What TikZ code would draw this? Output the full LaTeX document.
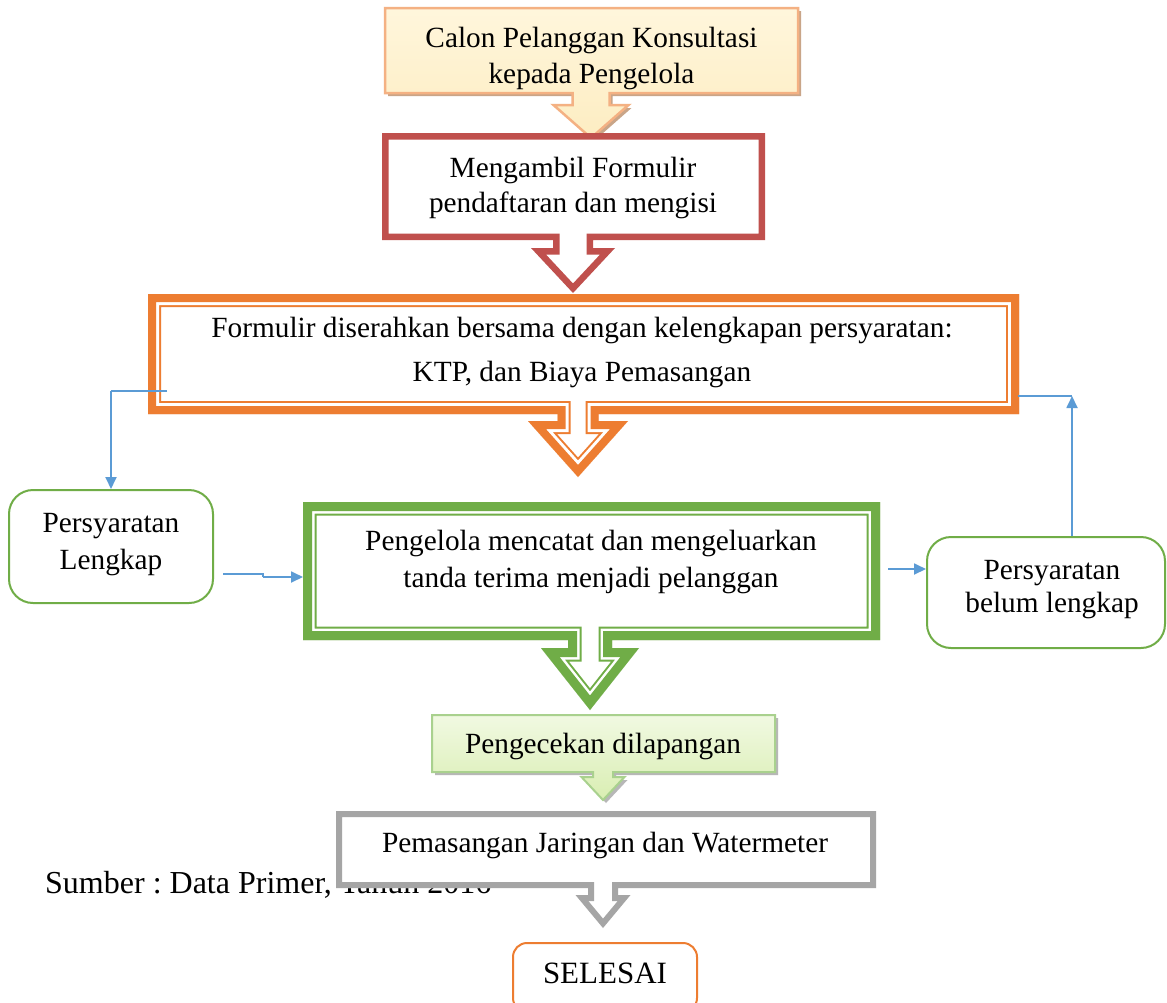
\documentclass[tikz,border=0pt]{standalone}
\usepackage{fontspec}
\setmainfont{Liberation Serif}
\usetikzlibrary{arrows.meta}
\frenchspacing
\definecolor{cRed}{HTML}{C0504D}
\definecolor{cOrange}{HTML}{ED7D31}
\definecolor{cGreen}{HTML}{70AD47}
\definecolor{cGrey}{HTML}{A5A5A5}
\definecolor{cBlue}{HTML}{5B9BD5}
\definecolor{cPeach}{HTML}{F4B183}
\definecolor{cCream}{HTML}{FDEDC2}
\definecolor{cCreamTop}{HTML}{FFF6DC}
\definecolor{cTan}{HTML}{C9A588}
\definecolor{cLime}{HTML}{A9D18E}
\definecolor{cLimeTop}{HTML}{F1F9E2}
\definecolor{cLimeBot}{HTML}{D9EEB2}
\definecolor{cShadow}{HTML}{A6A6A6}
% L,R,T,B, C (arrow centre x), s (shaft half width), h (head half width), H (head top y), P (tip y)
\newcommand{\calloutpath}[9]{(#1,#3) -- (#2,#3) -- (#2,#4) -- ({#5+#6},#4) -- ({#5+#6},#8) -- ({#5+#7},#8) -- (#5,#9) -- ({#5-#7},#8) -- ({#5-#6},#8) -- ({#5-#6},#4) -- (#1,#4) -- cycle}
\begin{document}
\begin{tikzpicture}[x=1pt,y=-1pt,line join=miter,
  txt/.style={inner sep=0pt,align=center,text=black},
  rbox/.style={draw=cGreen,line width=2pt,rounded corners=24pt,fill=white,inner sep=0pt},
  bluearrow/.style={draw=cBlue,line width=1.8pt,-{Triangle[length=12pt,width=11pt]}},
  blueline/.style={draw=cBlue,line width=1.5pt}]
\useasboundingbox (0,0) rectangle (1167,1002);
\fill[white] (0,0) rectangle (1167,1002);

% ---- box 1 : Calon Pelanggan
\def\curpath{\calloutpath{385}{798}{8}{93}{591}{18.5}{37.5}{105}{138}}
\fill[cTan,shift={(3,3)}] \curpath;
\shade[top color=cCreamTop,bottom color=cCream] \curpath;
\draw[cPeach,line width=2.5pt] \curpath;
\node[txt,font=\fontsize{29.3}{36}\selectfont] (t1) at (591.5,58.2)
  {Calon Pelanggan Konsultasi\\kepada Pengelola};

% ---- box 2 : Mengambil Formulir
\def\curpath{\calloutpath{382}{765}{133}{240}{573}{20}{42}{248}{293}}
\begin{scope}
\clip \curpath;
\fill[white] \curpath;
\draw[cRed,line width=13pt] \curpath;
\end{scope}
\node[txt,font=\fontsize{29.3}{35}\selectfont] (t2) at (573,187.7)
  {Mengambil Formulir\\pendaftaran dan mengisi};

% ---- box 3 : Formulir diserahkan
\def\curpath{\calloutpath{148}{1019}{294}{414}{578}{20.5}{50}{421}{477}}
\begin{scope}
\clip \curpath;
\fill[white] \curpath;
\draw[cOrange,line width=26pt] \curpath;
\draw[white,line width=22pt] \curpath;
\draw[cOrange,line width=16pt] \curpath;
\end{scope}
\node[txt,font=\fontsize{29.3}{44}\selectfont] (t3) at (582,352.2)
  {Formulir diserahkan bersama dengan kelengkapan persyaratan:\\KTP, dan Biaya Pemasangan};

% ---- box 4 : Pengelola mencatat
\def\curpath{\calloutpath{303}{880}{502}{640}{590}{22}{49}{648}{710}}
\begin{scope}
\clip \curpath;
\fill[white] \curpath;
\draw[cGreen,line width=27pt] \curpath;
\draw[white,line width=23pt] \curpath;
\draw[cGreen,line width=18pt] \curpath;
\end{scope}
\node[txt,font=\fontsize{29.3}{37}\selectfont] (t4) at (591,561.7)
  {Pengelola mencatat dan mengeluarkan\\tanda terima menjadi pelanggan};

% ---- box 5 : Pengecekan dilapangan
\def\curpath{\calloutpath{432}{775}{715}{772}{603}{10}{21.5}{777}{800}}
\fill[cShadow,opacity=0.8,shift={(3,3)}] \curpath;
\shade[top color=cLimeTop,bottom color=cLimeBot] \curpath;
\draw[cLime,line width=2pt] \curpath;
\node[txt,anchor=base,font=\fontsize{29.3}{35}\selectfont] (t5) at (603,753)
  {Pengecekan dilapangan};

% ---- source note (partly hidden by the next box)
\node[txt,anchor=base west,font=\fontsize{32}{38}\selectfont] (src) at (45,893)
  {Sumber : Data Primer, Tahun 2016};

% ---- box 6 : Pemasangan
\def\curpath{\calloutpath{336}{876}{811}{888}{603}{15}{27.5}{895}{928}}
\begin{scope}
\clip \curpath;
\fill[white] \curpath;
\draw[cGrey,line width=12pt] \curpath;
\end{scope}
\node[txt,anchor=base,font=\fontsize{29.3}{35}\selectfont] (t6) at (605,852)
  {Pemasangan Jaringan dan Watermeter};

% ---- end box
\node[rbox,draw=cOrange,rounded corners=14pt,minimum width=184pt,minimum height=69pt] (end) at (605,977.5) {};
\node[txt,anchor=base,font=\fontsize{31}{36}\selectfont] (endt) at (605,983) {SELESAI};

% ---- side boxes
\node[rbox,minimum width=204pt,minimum height=113pt] (pl) at (111,546.5) {};
\node[txt,font=\fontsize{29.3}{37}\selectfont] (plt) at (111,545) {Persyaratan\\Lengkap};
\node[rbox,minimum width=238pt,minimum height=111pt] (bl) at (1046,592.5) {};
\node[txt,font=\fontsize{29.3}{33}\selectfont] (blt) at (1052,590) {Persyaratan\\belum lengkap};

% ---- connectors
\coordinate (a1) at (167,391);
\draw[blueline] (a1) -- (pl.north |- a1);
\draw[bluearrow] (pl.north |- a1) -- (pl.north);
\coordinate (a2) at (223,574);
\coordinate (a2m) at (263,574);
\coordinate (gW) at (303,577);
\draw[blueline] (a2) -- (a2m) -- (a2m |- gW);
\draw[bluearrow] (a2m |- gW) -- (gW);
\coordinate (a3) at (888,569);
\draw[bluearrow] (a3) -- (a3 -| bl.west);
\coordinate (a4) at (1072,396);
\coordinate (a4s) at (1018,396);
\draw[bluearrow] (a4 |- bl.north) -- (a4);
\draw[blueline] (a4s) -- (a4);
\end{tikzpicture}
\end{document}
